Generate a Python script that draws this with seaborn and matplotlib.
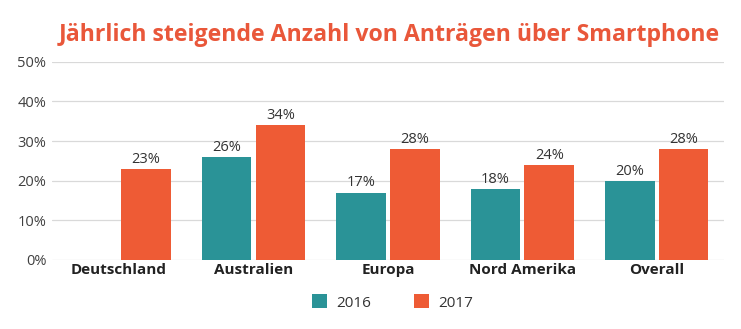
import numpy as np
import pandas as pd
import matplotlib
matplotlib.use("Agg")
import matplotlib.pyplot as plt
import seaborn as sns

categories = ["Deutschland", "Australien", "Europa", "Nord Amerika", "Overall"]
years = ["2016", "2017"]
values_2016 = [np.nan, 26, 17, 18, 20]
values_2017 = [23, 34, 28, 24, 28]
title = "Jährlich steigende Anzahl von Anträgen über Smartphone"
yticks = [0, 10, 20, 30, 40, 50]

df = pd.DataFrame({
    "cat": categories * 2,
    "year": [years[0]] * 5 + [years[1]] * 5,
    "val": values_2016 + values_2017,
})

sns.set_theme(style="white")
plt.rcParams["font.family"] = ["Open Sans", "DejaVu Sans"]

fig = plt.figure(figsize=(7.41, 3.29), dpi=100)
ax = fig.add_axes([0.070, 0.21, 0.907, 0.602])

palette = {"2016": "#2A9397", "2017": "#EE5B35"}
sns.barplot(data=df, x="cat", y="val", hue="year", palette=palette,
            width=0.8, gap=0.08, ax=ax, saturation=1, legend=True, linewidth=0)

for cont in ax.containers:
    for bar in cont:
        h = bar.get_height()
        if np.isnan(h):
            continue
        ax.annotate(f"{int(round(h))}%", (bar.get_x() + bar.get_width() / 2, h),
                    xytext=(0, 1.5), textcoords="offset points", ha="center", va="bottom",
                    fontsize=10.5, color="#333333")

ax.set_ylim(0, 50)
ax.set_xlim(-0.5, 4.5)
ax.set_yticks(yticks)
ax.set_yticklabels([f"{t}%" for t in yticks], fontsize=10.5, color="#404040")
ax.set_xticks(range(len(categories)))
ax.set_xticklabels(categories, fontsize=11, fontweight="bold", color="#222222")
ax.tick_params(axis="x", length=0, pad=2.5)
ax.tick_params(axis="y", length=0, pad=4)
ax.yaxis.grid(True, color="#d9d9d9", linewidth=0.9)
ax.set_axisbelow(True)
for s in ax.spines.values():
    s.set_visible(False)
ax.set_xlabel("")
ax.set_ylabel("")

leg = ax.legend(loc="upper center", bbox_to_anchor=(0.507, -0.105), ncol=2, frameon=False,
                fontsize=11, handlelength=1.0, handleheight=1.0, columnspacing=2.8,
                handletextpad=0.6)
for t in leg.get_texts():
    t.set_color("#333333")

fig.text(0.525, 0.893, title, ha="center", va="center", fontsize=16.7, fontweight="bold",
         color="#E9573A")

fig.savefig("out.png", dpi=100)
